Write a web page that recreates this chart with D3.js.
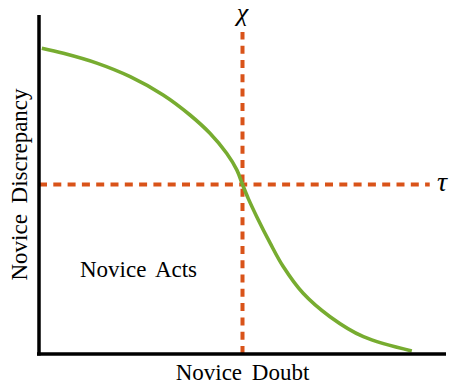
<!DOCTYPE html>
<html>
<head>
<meta charset="utf-8">
<script src="https://cdn.jsdelivr.net/npm/d3@7"></script>
<style>
    body { margin: 0; background: #fff; }
    text { font-family: "Liberation Serif", "DejaVu Serif", serif; fill: #000; }
</style>
</head>
<body>
<svg width="452" height="392"></svg>
<script>
// curve (arbitrary 0..100 units)
const doubt = [0.7, 6, 14.2, 22.4, 30.5, 37.1, 42, 46.1, 48.6, 50, 51.4, 53.5, 56.8, 60, 64.9, 71.5, 79.7, 91.6];
const discrepancy = [90.2, 88.7, 85.8, 81.8, 76.4, 70.5, 65.1, 59.2, 54.3, 50, 45.9, 40.5, 32.7, 25.8, 17.9, 11, 5.1, 0.9];
const chi = 50, tau = 50;
const chiTop = 95, tauEnd = 96;

const svg = d3.select("svg");
const x = d3.scaleLinear().domain([0, 100]).range([39, 446]);
const y = d3.scaleLinear().domain([0, 100]).range([354, 15]);

const orange = "#D95319", green = "#77AC30";

// dashed thresholds
svg.append("line")
    .attr("x1", x(chi)).attr("x2", x(chi))
    .attr("y1", y(0)).attr("y2", y(chiTop))
    .attr("stroke", orange).attr("stroke-width", 4)
    .attr("stroke-dasharray", "8,6.3");
svg.append("line")
    .attr("x1", x(0)).attr("x2", x(tauEnd))
    .attr("y1", y(tau)).attr("y2", y(tau))
    .attr("stroke", orange).attr("stroke-width", 3.8)
    .attr("stroke-dasharray", "8,6.3");

const line = d3.line()
    .x(d => x(d[0]))
    .y(d => y(d[1]))
    .curve(d3.curveCatmullRom);

svg.append("path")
    .datum(d3.zip(doubt, discrepancy))
    .attr("d", line)
    .attr("fill", "none")
    .attr("stroke", green)
    .attr("stroke-width", 3.6);

// axes, no ticks
const xaxis = svg.append("g")
    .attr("transform", "translate(0," + y(0) + ")")
    .call(d3.axisBottom(x).tickValues([]).tickSizeOuter(0));
const yaxis = svg.append("g")
    .attr("transform", "translate(" + x(0) + ",0)")
    .call(d3.axisLeft(y).tickValues([]).tickSizeOuter(0));
svg.selectAll(".domain").attr("stroke", "#000").attr("stroke-width", 3.5);
xaxis.select(".domain").attr("d", "M" + (x(0) - 2) + ",0H" + x(100));
yaxis.select(".domain").attr("d", "M0," + y(100) + "V" + (y(0) + 1.5));

svg.append("text")
    .attr("x", x(50)).attr("y", 380)
    .attr("text-anchor", "middle")
    .attr("font-size", 23).attr("word-spacing", 4)
    .text("Novice Doubt");
svg.append("text")
    .attr("transform", "translate(27," + y(50) + ") rotate(-90)")
    .attr("text-anchor", "middle")
    .attr("font-size", 23).attr("word-spacing", 5)
    .text("Novice Discrepancy");
svg.append("text")
    .attr("x", 80).attr("y", 277)
    .attr("font-size", 23).attr("word-spacing", 4)
    .text("Novice Acts");
svg.append("text")
    .attr("x", x(chi)).attr("y", 21)
    .attr("text-anchor", "middle")
    .attr("font-size", 26).attr("font-style", "italic")
    .text("χ");
svg.append("text")
    .attr("x", 437).attr("y", 191)
    .attr("font-size", 28).attr("font-style", "italic")
    .text("τ");
</script>
</body>
</html>
